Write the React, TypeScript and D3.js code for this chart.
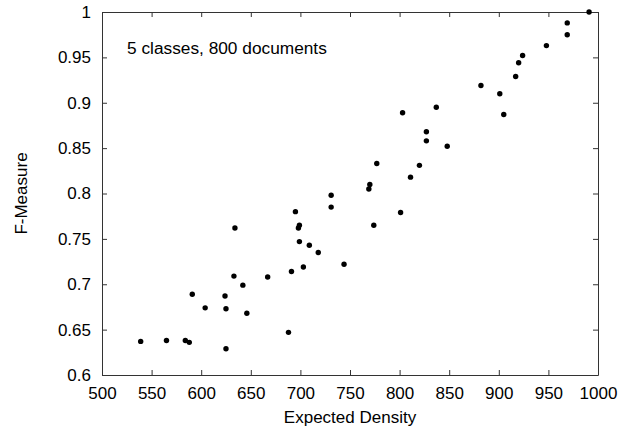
import React, { useRef, useEffect } from "react";
import * as d3 from "d3";

// Expected density vs F-measure
const density: number[] = [
  539, 565, 584, 588, 591, 604, 624, 625, 625, 633, 634, 642, 646, 667, 688, 691,
  695, 698, 699, 699, 703, 709, 718, 731, 731, 744, 769, 770, 774, 777, 801, 803,
  811, 820, 827, 827, 837, 848, 882, 901, 905, 917, 920, 924, 948, 969, 969, 991,
];
const fMeasure: number[] = [
  0.637, 0.638, 0.638, 0.636, 0.689, 0.674, 0.687, 0.673, 0.629, 0.709, 0.762, 0.699,
  0.668, 0.708, 0.647, 0.714, 0.78, 0.762, 0.765, 0.747, 0.719, 0.743, 0.735, 0.798,
  0.785, 0.722, 0.805, 0.81, 0.765, 0.833, 0.779, 0.889, 0.818, 0.831, 0.868, 0.858,
  0.895, 0.852, 0.919, 0.91, 0.887, 0.929, 0.944, 0.952, 0.963, 0.988, 0.975, 1.0,
];
const xTicks: number[] = [500, 550, 600, 650, 700, 750, 800, 850, 900, 950, 1000];
const yTicks: number[] = [0.6, 0.65, 0.7, 0.75, 0.8, 0.85, 0.9, 0.95, 1];

export default function App() {
  const svgRef = useRef<SVGSVGElement | null>(null);

  useEffect(() => {
    const width = 636;
    const height = 431;
    const margin = { top: 12, right: 38, bottom: 56, left: 102 };
    const font = "'Liberation Sans', Arial, Helvetica, sans-serif";
    const axisColor = "#333";

    const svg = d3.select(svgRef.current);
    svg.selectAll("*").remove();
    svg.attr("width", width).attr("height", height);

    const x = d3
      .scaleLinear()
      .domain([500, 1000])
      .range([margin.left, width - margin.right]);
    const y = d3
      .scaleLinear()
      .domain([0.6, 1])
      .range([height - margin.bottom, margin.top]);

    const tickLen = 5;

    // Frame with inward ticks on every side
    const axes = [
      { gen: d3.axisBottom(x), t: `translate(0,${y(0.6)})`, labels: true },
      { gen: d3.axisTop(x), t: `translate(0,${y(1)})`, labels: false },
      { gen: d3.axisLeft(y), t: `translate(${x(500)},0)`, labels: true },
      { gen: d3.axisRight(y), t: `translate(${x(1000)},0)`, labels: false },
    ];
    axes.forEach((a, i) => {
      const isX = i < 2;
      const gen = (a.gen as d3.Axis<d3.NumberValue>)
        .tickValues(isX ? xTicks : yTicks)
        .tickSizeInner(-tickLen)
        .tickSizeOuter(0)
        .tickPadding(isX ? 12 : 11)
        .tickFormat(a.labels ? (d) => d3.format("")(d as number) : () => "");
      const g = svg.append("g").attr("transform", a.t).call(gen);
      g.select(".domain").attr("stroke", axisColor).attr("stroke-width", 1);
      g.selectAll(".tick line").attr("stroke", axisColor);
      g.selectAll(".tick text")
        .attr("font-family", font)
        .attr("font-size", 17)
        .attr("fill", "#000");
    });

    // Points
    svg
      .append("g")
      .selectAll("circle")
      .data(density.map((d, i) => ({ d, f: fMeasure[i] })))
      .enter()
      .append("circle")
      .attr("cx", (p) => x(p.d))
      .attr("cy", (p) => y(p.f))
      .attr("r", 2.7)
      .attr("fill", "#000");

    // Annotation
    svg
      .append("text")
      .attr("x", 127)
      .attr("y", 54)
      .attr("font-family", font)
      .attr("font-size", 17.3)
      .attr("fill", "#000")
      .text("5 classes, 800 documents");

    // Axis titles
    svg
      .append("text")
      .attr("x", (x(500) + x(1000)) / 2)
      .attr("y", 423)
      .attr("text-anchor", "middle")
      .attr("font-family", font)
      .attr("font-size", 17)
      .attr("fill", "#000")
      .text("Expected Density");

    svg
      .append("text")
      .attr("transform", `translate(27,${(y(0.6) + y(1)) / 2}) rotate(-90)`)
      .attr("text-anchor", "middle")
      .attr("font-family", font)
      .attr("font-size", 17)
      .attr("fill", "#000")
      .text("F-Measure");
  }, []);

  return (
    <svg
      ref={svgRef}
      style={{ position: "absolute", left: 0, top: 0, display: "block", background: "#fff" }}
    ></svg>
  );
}
